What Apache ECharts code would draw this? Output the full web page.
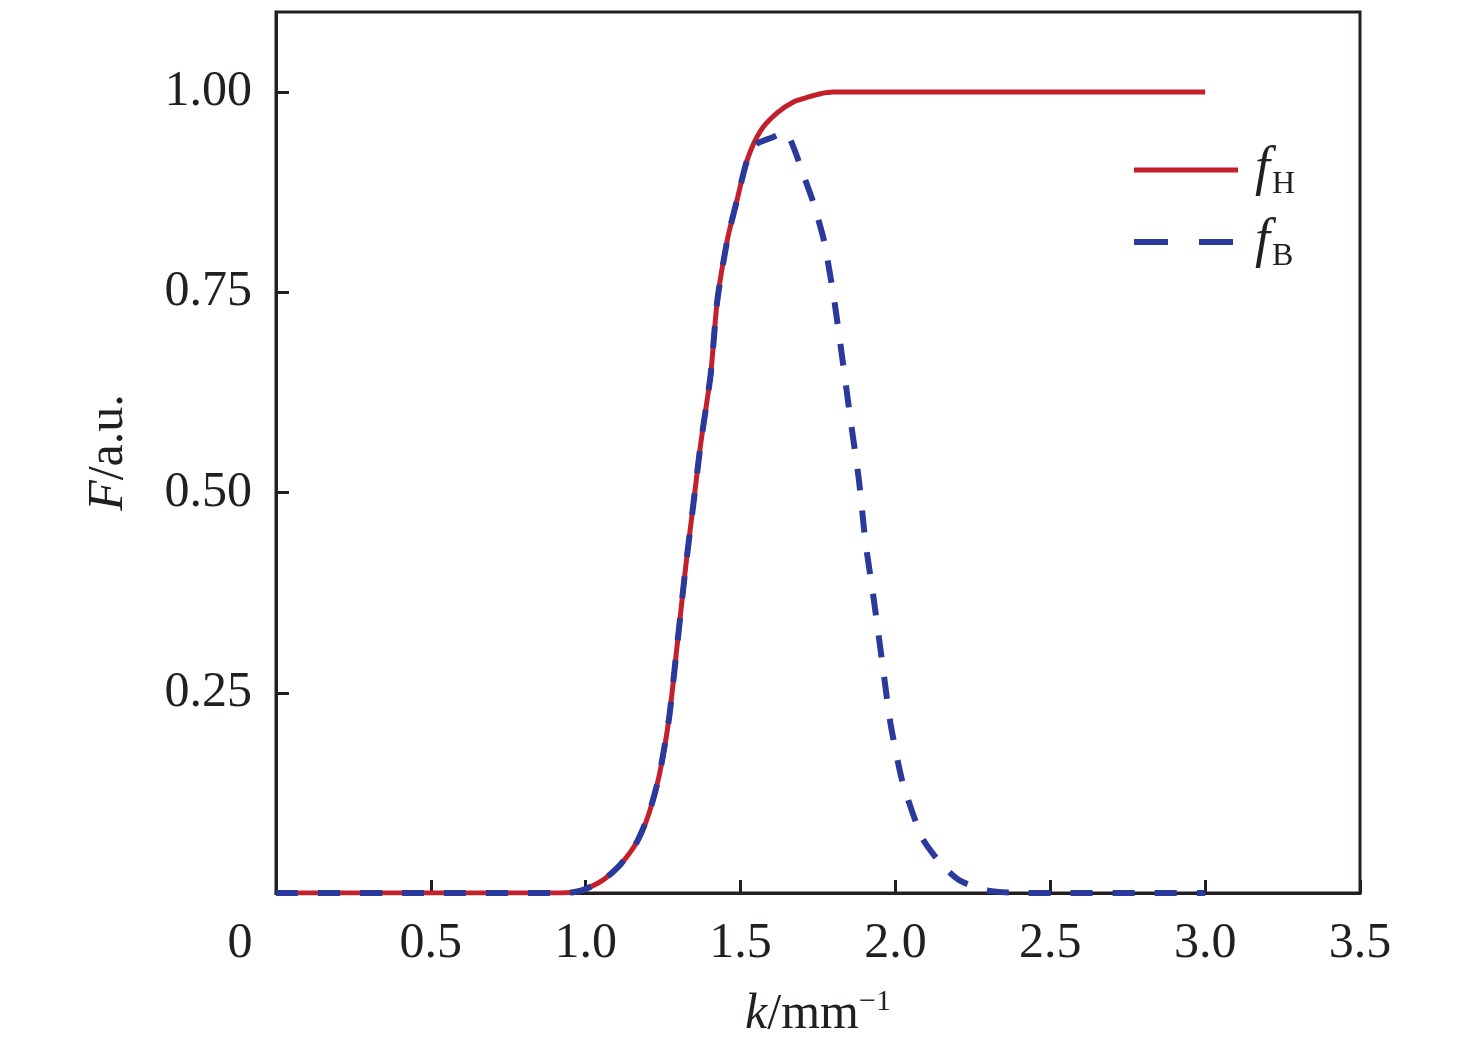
<!DOCTYPE html>
<html>
<head>
<meta charset="utf-8">
<script src="https://cdn.jsdelivr.net/npm/echarts@6.0.0/dist/echarts.min.js"></script>
<style>
  html, body { margin: 0; padding: 0; background: #fff; }
  #main { width: 1476px; height: 1045px; }
</style>
</head>
<body>
<div id="main"></div>
<script>
// f_H curve (k in mm^-1, F in a.u.)
var kH = [0, 0.5, 0.9, 0.96, 1.0, 1.059, 1.113, 1.167, 1.204, 1.237, 1.269, 1.296, 1.323, 1.349, 1.371, 1.403, 1.425, 1.457, 1.489, 1.522, 1.565, 1.618, 1.672, 1.72, 1.758, 1.8, 2.5, 3.0];
var fH = [0, 0, 0, 0.001, 0.005, 0.017, 0.036, 0.065, 0.099, 0.146, 0.218, 0.312, 0.408, 0.49, 0.56, 0.646, 0.74, 0.815, 0.866, 0.916, 0.952, 0.974, 0.988, 0.994, 0.998, 1.0, 1.0, 1.0];
// f_B curve
var kB = [0, 0.5, 0.9, 0.96, 1.0, 1.059, 1.113, 1.167, 1.204, 1.237, 1.269, 1.296, 1.323, 1.349, 1.371, 1.403, 1.425, 1.457, 1.489, 1.522, 1.55, 1.6, 1.645, 1.672, 1.7, 1.735, 1.769, 1.801, 1.828, 1.855, 1.882, 1.903, 1.93, 1.957, 1.984, 2.022, 2.086, 2.15, 2.21, 2.3, 2.4, 3.0];
var fB = [0, 0, 0, 0.001, 0.005, 0.017, 0.036, 0.065, 0.099, 0.146, 0.218, 0.312, 0.408, 0.49, 0.56, 0.646, 0.74, 0.815, 0.866, 0.916, 0.935, 0.943, 0.95, 0.93, 0.9, 0.862, 0.815, 0.744, 0.669, 0.591, 0.516, 0.439, 0.367, 0.289, 0.212, 0.14, 0.069, 0.035, 0.015, 0.003, 0, 0];

var xTicks = [0, 0.5, 1.0, 1.5, 2.0, 2.5, 3.0, 3.5];
var yTicks = [0.25, 0.5, 0.75, 1.0];

function pairs(xs, ys) {
    var out = [];
    for (var i = 0; i < xs.length; i++) out.push([xs[i], ys[i]]);
    return out;
}

var serif = '"Liberation Serif", "Times New Roman", serif';
var ink = '#231f20';

var myChart = echarts.init(document.getElementById('main'));
var option = {
    animation: false,
    backgroundColor: '#fff',
    grid: {
        left: 276, right: 116, top: 12, bottom: 152,
        show: true, borderColor: ink, borderWidth: 3, backgroundColor: 'transparent'
    },
    legend: {
        orient: 'vertical',
        left: 1126,
        top: 138,
        itemWidth: 104,
        itemHeight: 20,
        itemGap: 14,
        selectedMode: false,
        itemStyle: { opacity: 0 },
        data: [
            { name: 'fH', lineStyle: { width: 5, type: 'solid' } },
            { name: 'fB', lineStyle: { width: 6, type: [34, 31] } }
        ],
        formatter: function (name) {
            return '{f|f}{s|' + name.slice(1) + '}';
        },
        textStyle: {
            rich: {
                f: { fontFamily: serif, fontStyle: 'italic', fontSize: 54, lineHeight: 62, color: ink, padding: [0, 0, 0, 12] },
                s: { fontFamily: serif, fontSize: 32, lineHeight: 34, verticalAlign: 'bottom', color: ink, padding: [0, 0, 0, 2] }
            }
        }
    },
    xAxis: {
        type: 'value',
        min: 0, max: 3.5, interval: 0.5,
        name: '{i|k}{r|/mm}{sup|−1}',
        nameLocation: 'middle',
        nameGap: 94,
        nameTextStyle: {
            rich: {
                i: { fontFamily: serif, fontStyle: 'italic', fontSize: 50, color: ink, lineHeight: 56 },
                r: { fontFamily: serif, fontSize: 50, color: ink, lineHeight: 56 },
                sup: { fontFamily: serif, fontSize: 30, color: ink, lineHeight: 30, verticalAlign: 'top' }
            }
        },
        axisLine: { show: true, onZero: false, lineStyle: { color: ink, width: 3 } },
        axisTick: { show: true, inside: true, length: 13, customValues: xTicks, lineStyle: { color: ink, width: 3 } },
        axisLabel: {
            customValues: xTicks,
            margin: 26,
            fontFamily: serif,
            fontSize: 50,
            color: ink,
            formatter: function (v) {
                return v === 0 ? '{z|0}' : v.toFixed(1);
            },
            rich: {
                z: { fontFamily: serif, fontSize: 50, color: ink, padding: [0, 72, 0, 0] }
            }
        },
        splitLine: { show: false }
    },
    yAxis: {
        type: 'value',
        min: 0, max: 1.1, interval: 0.25,
        name: '{i|F}{r|/a.u.}',
        nameLocation: 'middle',
        nameGap: 142,
        nameRotate: 90,
        nameTextStyle: {
            rich: {
                i: { fontFamily: serif, fontStyle: 'italic', fontSize: 50, color: ink },
                r: { fontFamily: serif, fontSize: 50, color: ink }
            }
        },
        axisLine: { show: true, onZero: false, lineStyle: { color: ink, width: 3 } },
        axisTick: { show: true, inside: true, length: 13, customValues: yTicks, lineStyle: { color: ink, width: 3 } },
        axisLabel: {
            customValues: yTicks,
            margin: 24,
            fontFamily: serif,
            fontSize: 50,
            color: ink,
            formatter: function (v) { return v.toFixed(2); }
        },
        splitLine: { show: false }
    },
    series: [
        {
            name: 'fH',
            type: 'line',
            data: pairs(kH, fH),
            smooth: 0.25,
            symbol: 'none',
            lineStyle: { color: '#c4202c', width: 5 },
            itemStyle: { color: '#c4202c' }
        },
        {
            name: 'fB',
            type: 'line',
            data: pairs(kB, fB),
            smooth: 0.2,
            symbol: 'none',
            lineStyle: { color: '#2a3a9c', width: 6, type: [22, 20] },
            itemStyle: { color: '#2a3a9c' }
        }
    ]
};
myChart.setOption(option);
window.onresize = function () {
    myChart.resize();
};
</script>
</body>
</html>
